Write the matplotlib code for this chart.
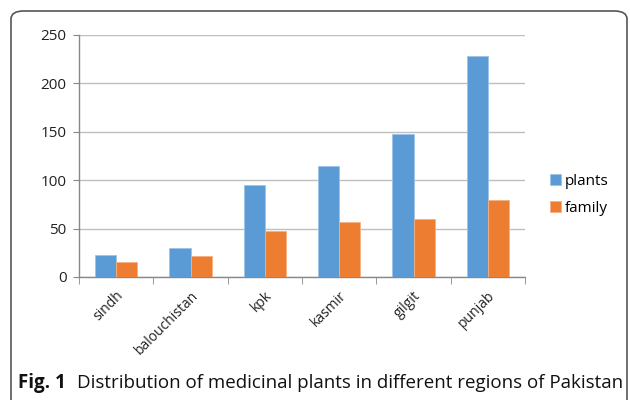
import numpy as np
import matplotlib.pyplot as plt
from matplotlib.patches import FancyBboxPatch

# Medicinal plant counts by region
regions = ["sindh", "balouchistan", "kpk", "kasmir", "gilgit", "punjab"]
plants = [23, 30, 95, 115, 148, 228]
family = [16, 22, 48, 57, 60, 80]

plt.rcParams['font.family'] = ['Open Sans', 'DejaVu Sans']

fig = plt.figure(figsize=(6.3, 4.0), dpi=100)
ax = fig.add_axes([0.1254, 0.3075, 0.708, 0.605])

x = np.arange(len(regions))
w = 0.285
ax.bar(x - w / 2, plants, w, color="#5B9BD5", edgecolor="#9DC3E6", linewidth=0.6, label="plants", zorder=3)
ax.bar(x + w / 2, family, w, color="#ED7D31", edgecolor="#F4B183", linewidth=0.6, label="family", zorder=3)

ax.set_xlim(-0.5, len(regions) - 0.5)
ax.set_ylim(0, 250)
ax.set_yticks(range(0, 251, 50))
ax.yaxis.grid(True, color="#BFBFBF", linewidth=1, zorder=0)

ax.set_xticks(x)
ax.set_xticklabels(regions, rotation=45, ha="right", va="top", rotation_mode="anchor", fontsize=10, color="#222222")
ax.tick_params(axis="x", length=0, pad=8)
ax.set_xticks(np.arange(-0.5, len(regions)), minor=True)
ax.tick_params(axis="x", which="minor", length=5, color="#888888", direction="out")
ax.tick_params(axis="y", length=4, color="#888888", labelsize=11, labelcolor="#222222", pad=5)

for side in ("top", "right"):
    ax.spines[side].set_visible(False)
for side in ("left", "bottom"):
    ax.spines[side].set_color("#888888")
    ax.spines[side].set_linewidth(1)

ax.legend(loc="center left", bbox_to_anchor=(1.025, 0.34), frameon=False, fontsize=11,
          handlelength=0.7, handleheight=0.7, handletextpad=0.25, labelspacing=0.8)

# rounded frame around chart and caption (right and bottom edges run off the page)
frame = FancyBboxPatch((11 / 630, -8 / 400), 616 / 630, 397 / 400,
                       boxstyle="round,pad=0,rounding_size=0.02",
                       transform=fig.transFigure, fill=False, edgecolor="#555555", linewidth=1.2,
                       clip_on=False)
fig.patches.append(frame)

fig.text(18 / 630, 1 - 383 / 400, "Fig. 1", fontsize=13.5, fontweight="bold", va="center", color="#111111")
fig.text(77 / 630, 1 - 383 / 400, "Distribution of medicinal plants in different regions of Pakistan",
         fontsize=13.5, va="center", color="#111111")

fig.savefig("out.png", dpi=100)
